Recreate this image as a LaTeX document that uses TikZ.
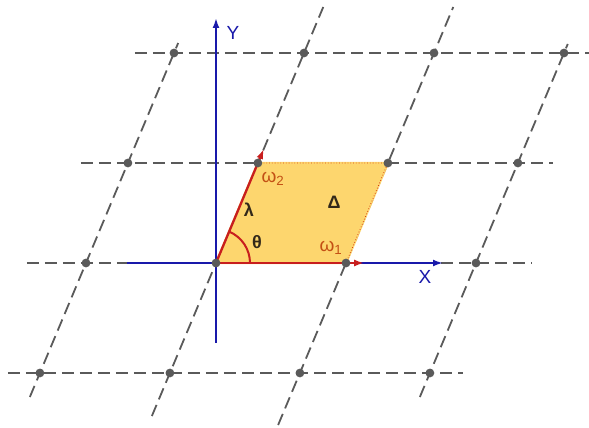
\documentclass[tikz,border=0pt]{standalone}
\usepackage{fontspec}
\setmainfont{Liberation Sans}
\usetikzlibrary{arrows.meta,calc}
\definecolor{axisblue}{RGB}{25,25,170}
\definecolor{vecred}{RGB}{200,30,30}
\definecolor{cellyellow}{RGB}{253,214,110}
\definecolor{gridgray}{RGB}{90,90,90}
\definecolor{omegabrown}{RGB}{195,80,20}
\definecolor{greekdark}{RGB}{50,40,25}

\begin{document}
\begin{tikzpicture}[x=1pt,y=1pt,
    lattice/.style={gridgray,line width=1.8pt,dash pattern=on 12pt off 6pt},
    axis/.style={axisblue,line width=2.8pt,-{Latex[length=10pt,width=7pt]}},
    vec/.style={vecred,line width=2.3pt,-{Latex[length=10pt,width=7pt]}},
    omegalbl/.style={omegabrown,font=\fontsize{19}{21}\selectfont},
    greeklbl/.style={greekdark,font=\fontsize{18}{20}\selectfont\bfseries},
    axislbl/.style={axisblue,font=\fontsize{19}{21}\selectfont}]
  \useasboundingbox (-216,-165) rectangle (373,263);
  % Draw lattice lines
  \foreach \y/\xa/\xb in {210/-81/373, 100/-135/337, 0/-189/316, -110/-208/247}
    \draw[lattice] (\xa,\y) -- (\xb,\y);
  \foreach \cx/\ya/\yb in {-130/-134/220, 0/-153/256, 130/-162/256, 260/-134/219}
    \draw[lattice] ({\cx+0.419*\ya},\ya) -- ({\cx+0.419*\yb},\yb);
  % Define points
  \coordinate (O) at (0,0);
  \coordinate (W1) at (130,0);
  \coordinate (W2) at (41.9,100);
  \coordinate (W12) at (171.9,100);
  % Unit cell
  \fill[cellyellow,draw=cellyellow,line width=2.4pt] (O) -- (W1) -- (W12) -- (W2) -- cycle;
  \draw[vecred!70!orange,line width=0.8pt,dotted] (W2) -- (W12) -- (W1);
  % Draw axes
  \coordinate (Xs) at (-89,0);
  \coordinate (Xe) at (227,0);
  \coordinate (Ys) at (0,-80);
  \coordinate (Ye) at (0,245);
  \draw[axis] (Xs) -- (Xe);
  \draw[axis] (Ys) -- (Ye);
  % Draw base vectors and angle
  \draw[vec] (O) -- ($(O)!1.14!(W1)$);
  \draw[vec] (O) -- ($(O)!1.14!(W2)$);
  \draw[vecred,line width=2pt] (34,0) arc[start angle=0,end angle=67.3,radius=34];
  % Mark points
  \foreach \y in {210,100,0,-110}
    \foreach \cx in {-130,0,130,260}
      \fill[gridgray] ({\cx+0.419*\y},\y) circle (4.4);
  % Labels
  \node[axislbl] (lblY) at (17,230) {Y};
  \node[axislbl] (lblX) at (209,-14) {X};
  \node[omegalbl] (lblW2) at (57,84) {ω\textsubscript{2}};
  \node[omegalbl] (lblW1) at (115,15) {ω\textsubscript{1}};
  \node[greeklbl] (lbllambda) at (33,53) {λ};
  \node[greeklbl] (lblDelta) at (118,61) {Δ};
  \node[greeklbl] (lbltheta) at (41,21) {θ};
\end{tikzpicture}
\end{document}
